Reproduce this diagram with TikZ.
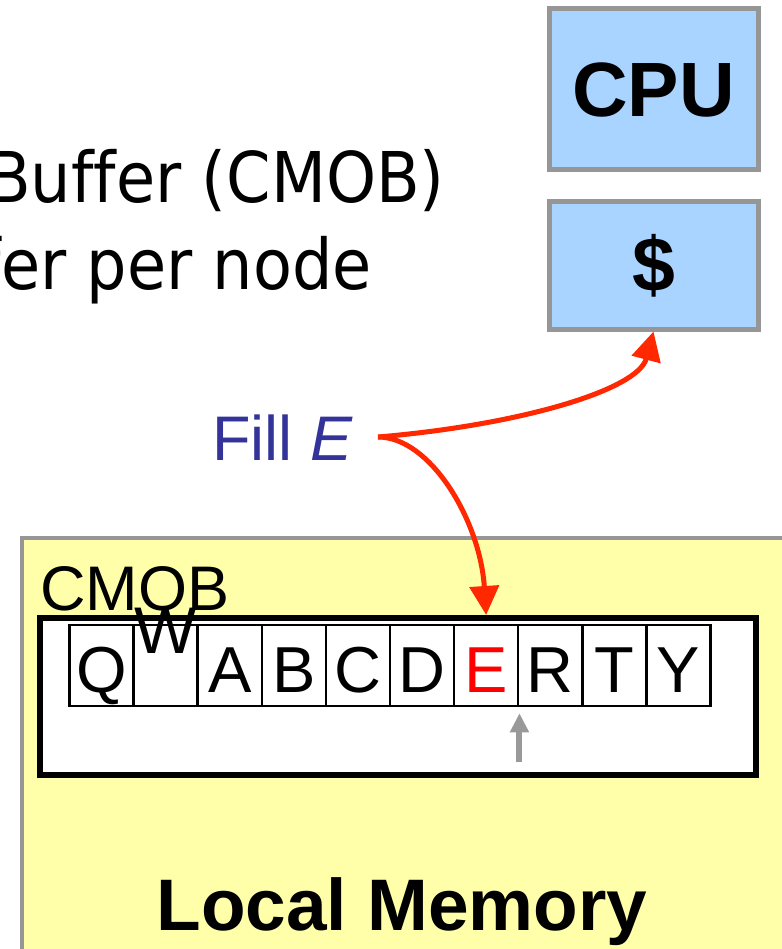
\documentclass[tikz,border=0pt]{standalone}
\usepackage{fontspec}
\setmainfont{Liberation Sans}
\newfontfamily\slidefont[FakeStretch=0.91,Ligatures=NoCommon]{DejaVu Sans}
\usetikzlibrary{arrows.meta}
\definecolor{boxgray}{RGB}{150,150,150}
\definecolor{ptrgray}{RGB}{153,153,153}
\definecolor{cpublue}{RGB}{168,212,255}
\definecolor{memyellow}{RGB}{255,255,170}
\definecolor{arrowred}{RGB}{255,40,0}
\definecolor{labelblue}{RGB}{51,51,153}
\tikzset{
  procbox/.style={draw=boxgray, fill=cpublue, line width=5pt, minimum width=209pt,
    inner sep=0pt, font=\bfseries\fontsize{77}{80}\selectfont},
  cell/.style={draw=black, line width=2.5pt, minimum width=64.1pt, minimum height=81pt,
    inner sep=0pt, text height=53pt, text depth=0pt, font=\fontsize{65}{70}\selectfont},
  plain/.style={inner sep=0pt},
  redarrow/.style={draw=arrowred, line width=5pt, -{Triangle[length=29pt,width=29pt]}},
  ptrarrow/.style={draw=ptrgray, line width=6pt, -{Triangle[length=19pt,width=18pt]}},
}
\begin{document}
\begin{tikzpicture}[x=1pt,y=-1pt]
  \useasboundingbox (0,0) rectangle (781,949);
  \fill[white] (0,0) rectangle (781,949);

  % slide text running in from the left
  \node[plain, anchor=base east] (line1) at (445,203)
    {\slidefont\fontsize{70}{80}\selectfont Buffer (CMOB)};
  \node[plain, anchor=base east] (line2) at (372,289)
    {\slidefont\fontsize{70}{80}\selectfont fer per node};

  % processor and cache
  \node[procbox, minimum height=161pt] (cpu) at (653.5,89.5) {CPU};
  \node[procbox, minimum height=127pt] (cache) at (653.5,265.5) {\$};

  % local memory with the CMOB inside
  \node[draw=boxgray, fill=memyellow, line width=4.5pt, minimum width=800pt,
        minimum height=450pt, anchor=north west, outer sep=0pt] (mem) at (22,538) {};
  \node[draw=black, fill=white, line width=6pt, minimum width=716pt,
        minimum height=157pt, inner sep=0pt] (buf) at (398,696.5) {};
  \foreach \ch/\col [count=\i] in {Q/black,/black,A/black,B/black,C/black,D/black,E/red,R/black,T/black,Y/black}
    \node[cell, text=\col] (c\i) at ({69.5+64.1*(\i-0.5)},665.5) {\ch};
  \node[plain, anchor=base west, font=\fontsize{63}{70}\selectfont] (cmoblbl) at (40,610) {CMOB};
  \node[plain, anchor=base, font=\fontsize{66}{70}\selectfont] (w) at (c2.center |- 0,653) {W};
  \node[plain, anchor=base, font=\bfseries\fontsize{73}{80}\selectfont] (memlbl) at (402,930) {Local Memory};

  % fill request label and its two red arrows
  \node[plain, anchor=base west, text=labelblue, font=\fontsize{63}{70}\selectfont] (fill) at (212,460) {Fill \textit{E}};
  \coordinate (fillpt) at (378,437);
  \draw[redarrow] (fillpt) .. controls (520,425) and (638,390) .. (cache.south);
  \draw[redarrow] (fillpt) .. controls (430,437) and (480,520) .. (c7.north |- buf.north);

  % head pointer under the buffer
  \coordinate (ptrtip) at ([yshift=-6pt]c7.south east);
  \coordinate (ptrtail) at (ptrtip |- 0,762);
  \draw[ptrarrow] (ptrtail) -- (ptrtip);
\end{tikzpicture}
\end{document}
